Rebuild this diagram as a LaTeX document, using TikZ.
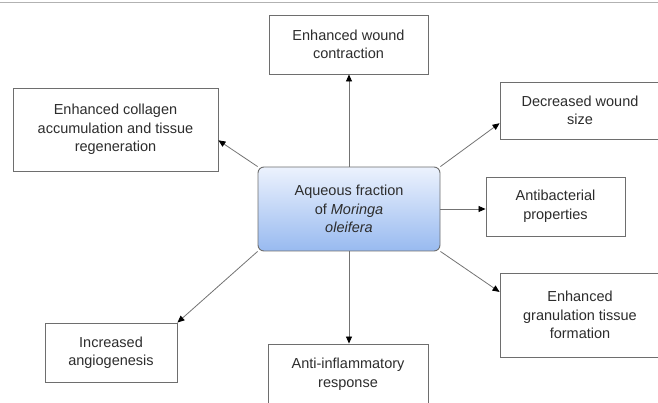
\documentclass[tikz,border=0pt]{standalone}
\usepackage{fontspec}
\setsansfont{Liberation Sans}
\usetikzlibrary{arrows.meta,positioning}
\definecolor{boxline}{RGB}{110,110,110}
\definecolor{txtgray}{RGB}{45,45,45}
\definecolor{shadetop}{RGB}{236,242,253}
\definecolor{shadebot}{RGB}{152,186,240}

\begin{document}
\begin{tikzpicture}[
  x=1pt, y=-1pt,
  effect/.style = {rectangle, draw=boxline, line width=0.9pt, fill=white,
                   text=txtgray, align=center, inner sep=2pt,
                   minimum width=#1,
                   font=\fontsize{14.5}{18.5}\selectfont\sffamily},
  effect/.default = 160pt,
  core/.style   = {rectangle, rounded corners=6pt, draw=boxline, line width=0.9pt,
                   top color=shadetop, bottom color=shadebot,
                   text=txtgray, align=center,
                   minimum width=182pt, minimum height=84pt,
                   font=\fontsize{14.5}{18.5}\selectfont\sffamily},
  arr/.style    = {-{Triangle[length=7pt, width=6pt, color=black]},
                   draw=black!55, line width=0.8pt},
]
\useasboundingbox (0,0) rectangle (658,403);
\draw[black!30, line width=1pt] (0,3) -- (658,3);

\node[core] (aqueous) at (349,209) {Aqueous fraction\\of \textit{Moringa}\\\textit{oleifera}};

\node[effect=159pt, minimum height=59pt] (contraction) at (348.5,44.5) {Enhanced wound\\contraction};
\node[effect=205pt, minimum height=83pt] (collagen) at (115.5,129.5)
  {Enhanced collagen\\accumulation and tissue\\regeneration};
\node[effect, minimum height=57pt] (size) at (580,110.5) {Decreased wound\\size};
\node[effect=139pt, minimum height=59pt] (antibac) at (555.5,206.5) {Antibacterial\\properties};
\node[effect, minimum height=84pt] (granulation) at (580,315)
  {Enhanced\\granulation tissue\\formation};
\node[effect=132pt, minimum height=59pt] (angio) at (111,352.5) {Increased\\angiogenesis};
\node[effect, minimum height=60pt] (inflam) at (348,374) {Anti-inflammatory\\response};

% outgoing effects
\draw[arr] (aqueous.north)      -- (aqueous.north |- contraction.south);
\draw[arr] (aqueous.south)      -- (aqueous.south |- inflam.north);
\draw[arr] (aqueous.east)       -- (aqueous.east -| antibac.west);
\draw[arr] (aqueous.north west) -- (collagen.-6);
\draw[arr] (aqueous.north east) -- (size.189);
\draw[arr] (aqueous.south east) -- (granulation.164);
\draw[arr] (aqueous.south west) -- (angio.north east);
\end{tikzpicture}
\end{document}
